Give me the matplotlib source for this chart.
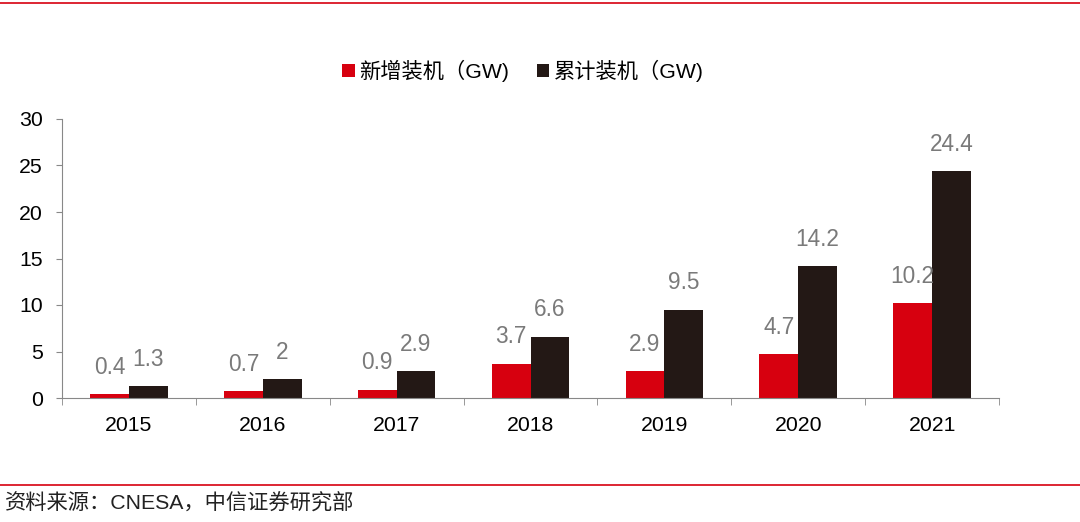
import numpy as np
import matplotlib.pyplot as plt
from matplotlib.lines import Line2D

plt.rcParams['font.family'] = ['Liberation Sans', 'Noto Sans CJK SC', 'DejaVu Sans']

years = ['2015', '2016', '2017', '2018', '2019', '2020', '2021']
new_gw = [0.4, 0.7, 0.9, 3.7, 2.9, 4.7, 10.2]
cum_gw = [1.3, 2, 2.9, 6.6, 9.5, 14.2, 24.4]
new_lbl = ['0.4', '0.7', '0.9', '3.7', '2.9', '4.7', '10.2']
cum_lbl = ['1.3', '2', '2.9', '6.6', '9.5', '14.2', '24.4']

RED = '#D7000F'
BLACK = '#231815'
GRAY = '#7a7a7a'

fig = plt.figure(figsize=(10.8, 5.22), dpi=100)
ax = fig.add_axes([62/1080, 1-398/522, (999-62)/1080, (398-119)/522])

x = np.arange(len(years))
w = 0.29
b1 = ax.bar(x - w/2, new_gw, w, color=RED, label='新增装机（GW)')
b2 = ax.bar(x + w/2, cum_gw, w, color=BLACK, label='累计装机（GW)')

# value labels above each bar
for bars, lbls in [(b1, new_lbl), (b2, cum_lbl)]:
    for rect, t in zip(bars, lbls):
        ax.annotate(t, (rect.get_x() + rect.get_width()/2, rect.get_height()),
                    xytext=(0, 11), textcoords='offset points', ha='center', va='bottom',
                    color=GRAY, fontsize=16.3)

ax.set_xlim(-0.5, len(years) - 0.5)
ax.set_ylim(0, 30)
ax.set_yticks(range(0, 31, 5))
ax.set_xticks(x)
ax.set_xticklabels(years)
ax.set_xticks(np.arange(-0.5, len(years), 1), minor=True)
ax.tick_params(axis='x', which='major', length=0, pad=13, labelsize=15.3)
ax.tick_params(axis='x', which='minor', length=5, color='#888888')
ax.tick_params(axis='y', length=4, color='#888888', labelsize=15.3, pad=10)

for s in ['top', 'right']:
    ax.spines[s].set_visible(False)
ax.spines['left'].set_color('#888888')
ax.spines['bottom'].set_color('#888888')

fig.legend(handles=[b1, b2], loc='center', bbox_to_anchor=(0.484, 1-71/522), ncol=2,
           frameon=False, fontsize=15.3, handlelength=0.6, handleheight=0.6,
           handletextpad=0.2, columnspacing=1.3)

fig.add_artist(Line2D([0, 1], [1-3/522, 1-3/522], color=RED, lw=1.2))
fig.add_artist(Line2D([0, 1], [1-485/522, 1-485/522], color=RED, lw=1.2))
fig.text(5/1080, 1-504/522, '资料来源：CNESA，中信证券研究部', fontsize=15.3,
         va='center', ha='left', color='#222222')

fig.savefig('out.png', dpi=100)
